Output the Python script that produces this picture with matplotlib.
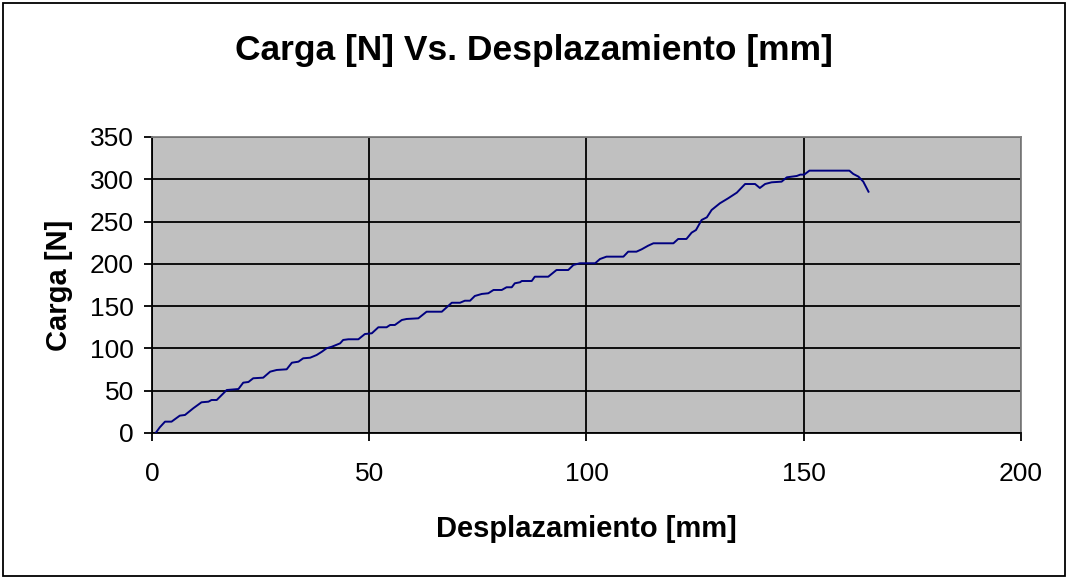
"""
Carga vs desplazamiento, estilo hoja de calculo.
"""

import matplotlib.pyplot as plt
from matplotlib.patches import Rectangle

# Desplazamiento [mm] y carga [N]
desplazamiento = [
    0.9, 1.8, 3.0, 4.5, 6.4, 7.6, 9.5, 11.4, 13.0, 13.7, 14.9, 17.2, 19.9, 21.0,
    22.2, 23.3, 25.6, 27.2, 28.7, 31.0, 32.2, 33.7, 34.8, 36.4, 37.9, 39.1, 40.2,
    41.4, 43.3, 44.0, 45.2, 47.5, 49.0, 50.6, 52.1, 54.0, 54.8, 55.9, 57.5, 58.6,
    61.3, 63.2, 66.7, 69.0, 70.9, 72.0, 73.2, 74.3, 75.9, 77.4, 78.6, 80.5, 81.6,
    82.8, 83.5, 84.7, 85.1, 87.4, 88.1, 91.2, 93.1, 95.8, 97.0, 98.5, 102.0,
    103.1, 104.6, 108.5, 109.6, 111.5, 112.7, 114.2, 115.4, 120.0, 121.1, 123.0,
    124.2, 125.2, 126.5, 127.7, 128.8, 130.7, 132.6, 134.6, 136.5, 138.8, 139.9,
    141.1, 142.6, 144.9, 146.1, 148.4, 149.2, 150.1, 151.3, 160.5, 161.4, 162.6,
    163.7, 164.9,
]
carga = [
    0.4, 6.7, 13.4, 13.4, 20.5, 21.3, 29.2, 36.3, 37.0, 39.0, 39.0, 50.8, 52.0,
    59.5, 60.3, 64.7, 65.4, 72.5, 74.5, 75.3, 83.1, 84.3, 88.3, 89.0, 92.2, 96.1,
    100.2, 102.0, 106.0, 110.0, 110.8, 110.8, 117.0, 117.9, 125.0, 125.0, 127.7,
    127.7, 133.6, 134.8, 135.6, 143.4, 143.4, 154.0, 154.0, 156.4, 156.4, 162.0,
    164.4, 165.2, 169.1, 169.1, 172.3, 172.3, 177.0, 178.2, 179.7, 179.7, 184.8,
    184.8, 192.7, 192.7, 198.7, 200.7, 200.7, 205.7, 208.5, 208.5, 214.4, 214.4,
    217.2, 221.5, 224.3, 224.3, 229.4, 229.4, 236.9, 240.0, 251.9, 255.0, 263.7,
    271.6, 277.5, 284.2, 294.4, 294.4, 289.7, 294.4, 296.4, 297.2, 302.3, 303.9,
    305.5, 305.5, 310.2, 310.2, 306.3, 303.1, 297.2, 285.3,
]

x_ticks = [0, 50, 100, 150, 200]
y_ticks = [0, 50, 100, 150, 200, 250, 300, 350]

plt.rcParams["font.family"] = ["Liberation Sans", "DejaVu Sans"]

fig = plt.figure(figsize=(10.68, 5.78), dpi=100)
ax = fig.add_axes([0.1423, 0.2509, 0.8137, 0.5121])

ax.set_facecolor("#C0C0C0")
ax.plot(desplazamiento, carga, color="#000080", linewidth=1.4, zorder=3)

ax.set_xlim(0, 200)
ax.set_ylim(0, 350)
ax.set_xticks(x_ticks)
ax.set_yticks(y_ticks)
ax.grid(True, color="black", linewidth=1.3, zorder=1)
ax.set_axisbelow(True)

for side in ["top", "right"]:
    ax.spines[side].set_color("#808080")
    ax.spines[side].set_linewidth(1.3)
for side in ["left", "bottom"]:
    ax.spines[side].set_color("black")
    ax.spines[side].set_linewidth(1.3)

ax.tick_params(direction="out", length=6, width=1.3, labelsize=19, colors="black")
ax.tick_params(axis="x", pad=15)
ax.tick_params(axis="y", pad=7)

ax.set_xlabel("Desplazamiento [mm]", fontsize=21, fontweight="bold", labelpad=21)
ax.set_ylabel("Carga [N]", fontsize=21, fontweight="bold", labelpad=12)

fig.text(0.5, 0.912, "Carga [N] Vs. Desplazamiento [mm]", ha="center", va="center",
         fontsize=25.5, fontweight="bold")

# marco exterior del grafico
fig.patches.append(Rectangle((0.003, 0.004), 0.994, 0.991, transform=fig.transFigure,
                             fill=False, edgecolor="black", linewidth=1.3))

plt.savefig("out.png", dpi=100)
